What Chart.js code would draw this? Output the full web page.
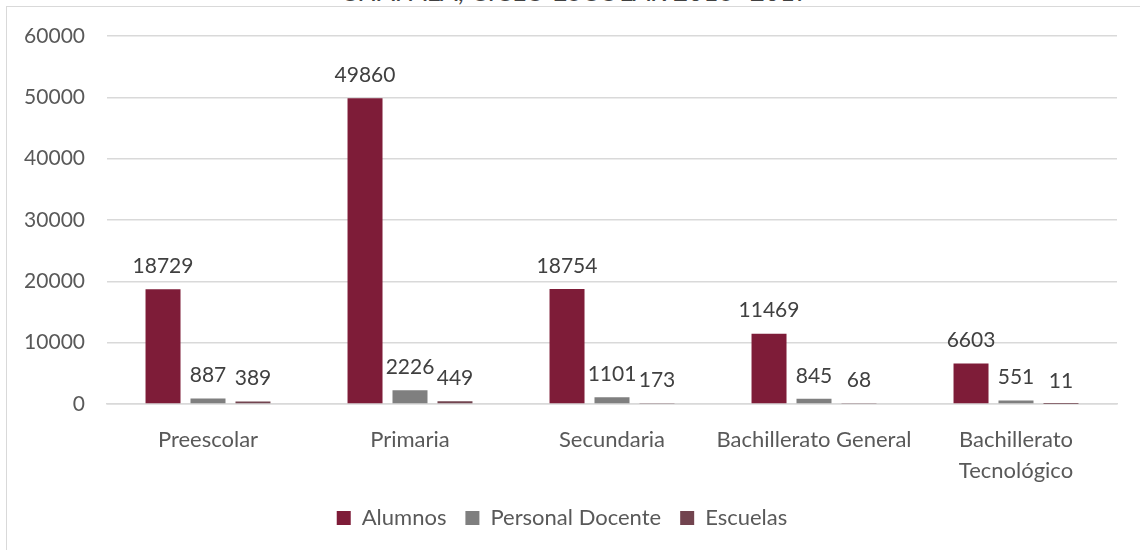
<!DOCTYPE html>
<html lang="es">
<head>
  <meta charset="UTF-8" />
  <title>Chapala - Ciclo escolar 2016-2017</title>
  <script src="https://cdn.jsdelivr.net/npm/chart.js"></script>
  <style>
    body {
      margin: 0;
      width: 1140px;
      height: 550px;
      overflow: hidden;
      background: #ffffff;
      font-family: Lato, 'Open Sans', sans-serif;
      position: relative;
    }

    .frame {
      position: absolute;
      left: 6px;
      top: 6px;
      width: 1200px;
      height: 600px;
      border-left: 1.5px solid #d9d9d9;
      border-top: 1.5px solid #d9d9d9;
    }

    .title {
      position: absolute;
      left: 0;
      width: 1150px;
      top: -22px;
      text-align: center;
      font-size: 26px;
      line-height: 26px;
      color: #404040;
      white-space: nowrap;
    }

    .chart-box {
      position: absolute;
      left: 0;
      top: 0;
      width: 1140px;
      height: 550px;
    }
  </style>
</head>
<body>
  <div class="frame"></div>
  <div class="title">CHAPALA, CICLO ESCOLAR 2016 -2017</div>
  <div class="chart-box">
    <canvas id="barChart"></canvas>
  </div>

  <script>
    const niveles = ['Preescolar', 'Primaria', 'Secundaria', 'Bachillerato General', ['Bachillerato', 'Tecnológico']];
    const alumnos = [18729, 49860, 18754, 11469, 6603];
    const personalDocente = [887, 2226, 1101, 845, 551];
    const escuelas = [389, 449, 173, 68, 11];
    const yMax = 60000;
    const yStep = 10000;

    // numbers above every bar
    const valueLabels = {
      id: 'valueLabels',
      afterDatasetsDraw(chart) {
        const ctx = chart.ctx;
        ctx.save();
        ctx.font = '21px Lato';
        ctx.fillStyle = '#404040';
        ctx.textAlign = 'center';
        ctx.textBaseline = 'middle';
        chart.data.datasets.forEach((ds, i) => {
          chart.getDatasetMeta(i).data.forEach((bar, j) => {
            ctx.fillText(ds.data[j], bar.x, bar.y - 23);
          });
        });
        ctx.restore();
      }
    };

    new Chart(document.getElementById('barChart'), {
      type: 'bar',
      data: {
        labels: niveles,
        datasets: [
          { label: 'Alumnos', data: alumnos, backgroundColor: '#7e1c38', borderWidth: 0 },
          { label: 'Personal Docente', data: personalDocente, backgroundColor: '#7f7f7f', borderWidth: 0 },
          { label: 'Escuelas', data: escuelas, backgroundColor: '#72444f', borderWidth: 0 }
        ]
      },
      options: {
        responsive: true,
        maintainAspectRatio: false,
        animation: false,
        datasets: {
          bar: { categoryPercentage: 0.668, barPercentage: 0.778 }
        },
        layout: {
          padding: { left: 7, right: 23, top: 36, bottom: 11 }
        },
        scales: {
          x: {
            grid: { display: false, drawTicks: false },
            border: { display: true, color: '#d9d9d9', width: 1.5 },
            ticks: {
              font: { family: 'Lato', size: 22, lineHeight: 1.41 },
              color: '#595959',
              padding: 20,
              maxRotation: 0,
              autoSkip: false
            },
            afterFit: (scale) => { scale.height = 84; }
          },
          y: {
            min: 0,
            max: yMax,
            grid: { color: '#d9d9d9', lineWidth: 1.5, drawTicks: false },
            border: { display: false },
            ticks: {
              stepSize: yStep,
              font: { family: 'Lato', size: 21 },
              color: '#595959',
              padding: 22,
              callback: (v) => String(v)
            },
            afterFit: (scale) => { scale.width = 100; }
          }
        },
        plugins: {
          legend: {
            position: 'bottom',
            labels: {
              font: { family: 'Lato', size: 22 },
              color: '#595959',
              boxWidth: 14,
              boxHeight: 14,
              padding: 19
            }
          },
          tooltip: { enabled: false }
        }
      },
      plugins: [valueLabels]
    });
  </script>
</body>
</html>
